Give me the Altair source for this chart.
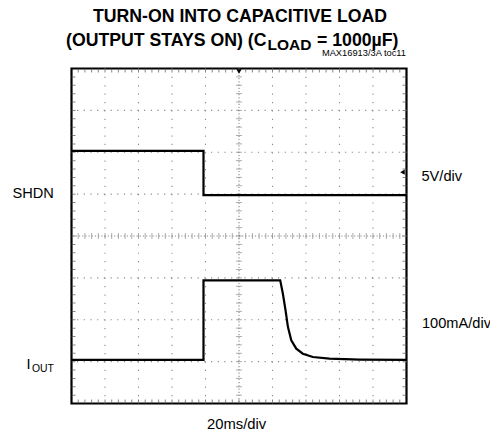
import altair as alt
import pandas as pd

# ---- data ----
# time axis: 20 ms/div, 10 divisions
shdn_t = [0.0, 78.8, 78.8, 200.0]          # ms
shdn_v = [5.3, 5.3, 0.0, 0.0]              # V   (5 V/div)
iout_t = [0.0, 78.8, 78.8, 124.6, 126.2, 127.8, 129.2, 131.2, 134.2, 138.1, 144.1, 154.0, 172.0, 200.0]
iout_ma = [0, 0, 190, 190, 158, 118, 79, 47, 27, 15, 7, 3, 1, 0]   # mA (100 mA/div)

SHDN_ZERO_DIV = 0.975
IOUT_ZERO_DIV = -2.96
V_PER_DIV = 5.0
MA_PER_DIV = 100.0

grid_x = [20, 40, 60, 80, 120, 140, 160, 180]
grid_y = [-3, -2, -1, 1, 2, 3]
minor_x = [i * 4 for i in range(1, 50)]
minor_y = [round(-4 + i * 0.2, 2) for i in range(1, 40)]

W, H = 335, 335
PL, PT = 63.5, 60.5
FONT = "'Liberation Sans', Arial, sans-serif"


def px(x):
    return x - 8 - PL


def py(y):
    return y - 8 - PT


xs = alt.Scale(domain=[0, 200], nice=False, zero=False)
ys = alt.Scale(domain=[-4, 4], nice=False, zero=False)

shdn_df = pd.DataFrame({"t": shdn_t, "v": shdn_v, "i": range(len(shdn_t))})
shdn_df["d"] = SHDN_ZERO_DIV + shdn_df["v"] / V_PER_DIV
iout_df = pd.DataFrame({"t": iout_t, "v": iout_ma, "i": range(len(iout_t))})
iout_df["d"] = IOUT_ZERO_DIV + iout_df["v"] / MA_PER_DIV

GRID = "#8a8a8a"

vgrid = alt.Chart(pd.DataFrame({"gx": grid_x})).mark_rule(
    color=GRID, strokeWidth=1.1, strokeDash=[1.2, 7.17]
).encode(x=alt.X("gx:Q", scale=xs, axis=None))

hgrid = alt.Chart(pd.DataFrame({"gy": grid_y})).mark_rule(
    color=GRID, strokeWidth=1.1, strokeDash=[1.2, 5.5]
).encode(y=alt.Y("gy:Q", scale=ys, axis=None))

vcenter = alt.Chart(pd.DataFrame({"gx": [100]})).mark_rule(
    color=GRID, strokeWidth=1.1, strokeDash=[1.2, 2.0]
).encode(x=alt.X("gx:Q", scale=xs, axis=None))

hcenter = alt.Chart(pd.DataFrame({"gy": [0]})).mark_rule(
    color=GRID, strokeWidth=1.1, strokeDash=[1.2, 2.0]
).encode(y=alt.Y("gy:Q", scale=ys, axis=None))

# minor ticks on the centre cross
hc_ticks = alt.Chart(pd.DataFrame({"mx": minor_x, "my": 0})).mark_tick(
    orient="vertical", color=GRID, size=6, thickness=1
).encode(x=alt.X("mx:Q", scale=xs, axis=None), y=alt.Y("my:Q", scale=ys, axis=None))

vc_ticks = alt.Chart(pd.DataFrame({"my": minor_y, "mx": 100})).mark_tick(
    orient="horizontal", color=GRID, size=6, thickness=1
).encode(x=alt.X("mx:Q", scale=xs, axis=None), y=alt.Y("my:Q", scale=ys, axis=None))

# minor ticks on the border
bx = pd.DataFrame({"mx": minor_x * 2, "my": [-4] * len(minor_x) + [4] * len(minor_x)})
border_x_ticks = alt.Chart(bx).mark_tick(
    orient="vertical", color="#555", size=8, thickness=1, clip=True
).encode(x=alt.X("mx:Q", scale=xs, axis=None), y=alt.Y("my:Q", scale=ys, axis=None))

by = pd.DataFrame({"my": minor_y * 2, "mx": [0] * len(minor_y) + [200] * len(minor_y)})
border_y_ticks = alt.Chart(by).mark_tick(
    orient="horizontal", color="#555", size=8, thickness=1, clip=True
).encode(x=alt.X("mx:Q", scale=xs, axis=None), y=alt.Y("my:Q", scale=ys, axis=None))

shdn_line = alt.Chart(shdn_df).mark_line(color="black", strokeWidth=2.2).encode(
    x=alt.X("t:Q", scale=xs, axis=None),
    y=alt.Y("d:Q", scale=ys, axis=None),
    order="i:Q",
)
iout_line = alt.Chart(iout_df).mark_line(color="black", strokeWidth=2.2).encode(
    x=alt.X("t:Q", scale=xs, axis=None),
    y=alt.Y("d:Q", scale=ys, axis=None),
    order="i:Q",
)

markers = alt.Chart(pd.DataFrame({"mx": [197.6, 100], "my": [1.525, 3.93],
                                  "s": ["triangle-left", "triangle-down"]})).mark_point(
    filled=True, color="black", size=28, opacity=1
).encode(
    x=alt.X("mx:Q", scale=xs, axis=None),
    y=alt.Y("my:Q", scale=ys, axis=None),
    shape=alt.Shape("s:N", scale=None, legend=None),
)


def label(text, x, y, size, align="left", bold=False):
    return alt.Chart(pd.DataFrame({"txt": [text]})).mark_text(
        align=align, baseline="alphabetic", fontSize=size, font=FONT,
        fontWeight="bold" if bold else "normal", color="black"
    ).encode(text="txt:N", x=alt.value(px(x)), y=alt.value(py(y)))


texts = [
    label("TURN-ON INTO CAPACITIVE LOAD", 240, 22, 17.7, align="center", bold=True),
    label("(OUTPUT STAYS ON) (C", 266.5, 45.5, 17.7, align="right", bold=True),
    label("LOAD", 267.5, 50, 15.5, align="left", bold=True),
    label("= 1000µF)", 398.5, 45.5, 17.7, align="right", bold=True),
    label("MAX16913/3A toc11", 406, 55.5, 9.3, align="right"),
    label("SHDN", 12.5, 198, 14.6),
    label("5V/div", 421.5, 180.5, 14.6),
    label("100mA/div", 422, 328, 14.6),
    label("20ms/div", 207, 428.5, 14.8),
    label("I", 26.5, 369, 14.6),
    label("OUT", 32, 371.5, 10.4),
]

chart = alt.layer(
    vgrid, hgrid, vcenter, hcenter, hc_ticks, vc_ticks,
    border_x_ticks, border_y_ticks, shdn_line, iout_line, markers, *texts
).properties(
    width=W, height=H,
    autosize=alt.AutoSizeParams(type="none"),
    padding={"left": PL, "top": PT, "right": 498 - 16 - PL - W, "bottom": 438 - 16 - PT - H},
    background="white",
).configure_view(stroke="black", strokeWidth=2.2)

chart.save("out.html", embed_options={"renderer": "svg", "actions": False})
